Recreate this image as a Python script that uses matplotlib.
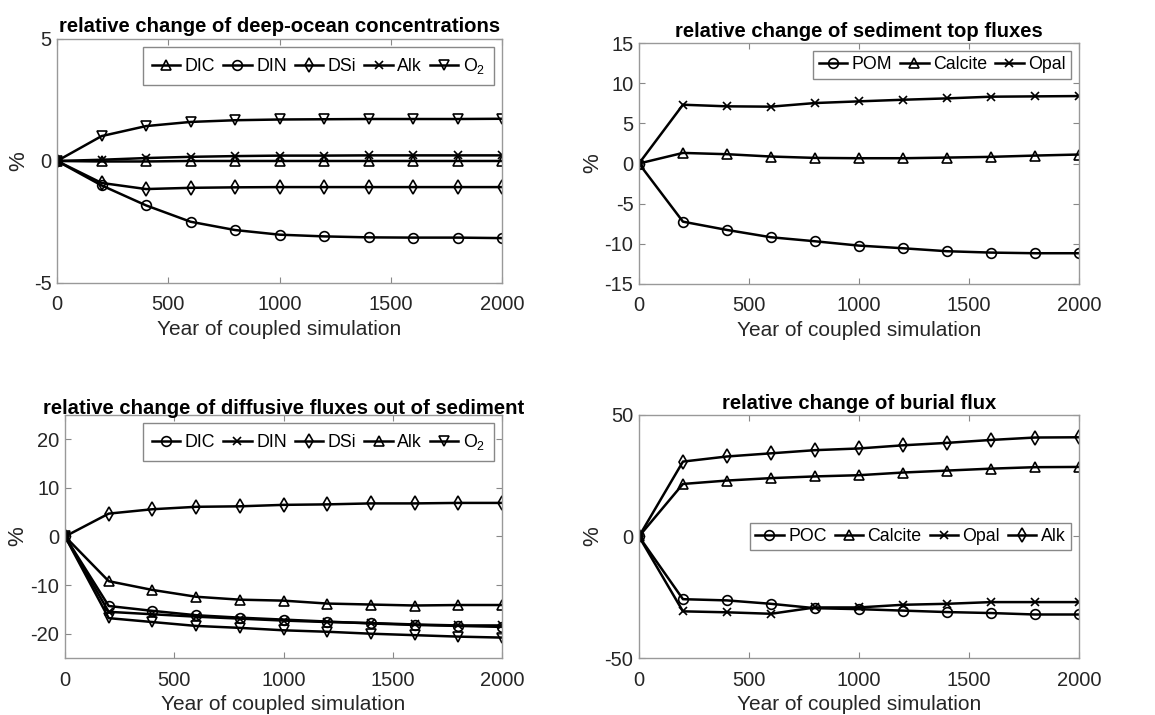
import matplotlib
matplotlib.use('Agg')
import matplotlib.pyplot as plt
import numpy as np

plt.rcParams['font.family'] = ['Liberation Sans', 'DejaVu Sans']
plt.rcParams['mathtext.default'] = 'regular'

# 年份
years = [0, 200, 400, 600, 800, 1000, 1200, 1400, 1600, 1800, 2000]

# deep-ocean concentrations
deep_dic = [0, -0.02, -0.02, 0, 0, 0, 0, 0, 0, 0, 0]
deep_din = [0, -1.0, -1.82, -2.49, -2.83, -3.02, -3.09, -3.13, -3.14, -3.14, -3.16]
deep_dsi = [0, -0.9, -1.15, -1.1, -1.08, -1.07, -1.07, -1.07, -1.07, -1.07, -1.07]
deep_alk = [0, 0.05, 0.12, 0.17, 0.2, 0.22, 0.22, 0.23, 0.23, 0.23, 0.23]
deep_o2 = [0, 1.02, 1.43, 1.6, 1.67, 1.7, 1.71, 1.72, 1.72, 1.72, 1.73]

# sediment top fluxes
top_pom = [0, -7.24, -8.27, -9.18, -9.68, -10.22, -10.55, -10.92, -11.09, -11.17, -11.17]
top_calcite = [0, 1.32, 1.16, 0.87, 0.7, 0.66, 0.66, 0.74, 0.83, 0.99, 1.12]
top_opal = [0, 7.32, 7.12, 7.08, 7.53, 7.74, 7.94, 8.11, 8.32, 8.36, 8.4]

# diffusive fluxes out of sediment
dif_dic = [0, -14.3, -15.3, -16.2, -16.7, -17.1, -17.5, -17.9, -18.2, -18.4, -18.6]
dif_din = [0, -15.5, -16.0, -16.5, -16.9, -17.3, -17.6, -17.8, -18.1, -18.3, -18.3]
dif_dsi = [0, 4.7, 5.6, 6.1, 6.2, 6.5, 6.6, 6.8, 6.8, 6.9, 6.9]
dif_alk = [0, -9.2, -11.0, -12.4, -13.0, -13.2, -13.8, -14.0, -14.2, -14.1, -14.1]
dif_o2 = [0, -16.8, -17.6, -18.4, -18.8, -19.3, -19.6, -20.0, -20.3, -20.6, -20.8]

# burial flux
bur_poc = [0, -25.8, -26.3, -27.7, -29.5, -29.9, -30.5, -31.1, -31.5, -32.1, -32.1]
bur_calcite = [0, 21.6, 23.0, 24.0, 24.7, 25.2, 26.3, 27.1, 27.9, 28.5, 28.6]
bur_opal = [0, -30.8, -31.2, -31.8, -29.2, -29.2, -28.1, -27.7, -27.0, -27.0, -27.0]
bur_alk = [0, 30.8, 32.9, 34.2, 35.5, 36.2, 37.5, 38.5, 39.7, 40.7, 40.8]

fig = plt.figure(figsize=(11.55, 7.15), dpi=100)
ax1 = fig.add_axes([0.0494, 0.6042, 0.3853, 0.3413])
ax2 = fig.add_axes([0.5532, 0.6028, 0.381, 0.337])
ax3 = fig.add_axes([0.0563, 0.0797, 0.3784, 0.340])
ax4 = fig.add_axes([0.5532, 0.0797, 0.381, 0.340])


def draw(ax, series, title, ylim, yticks, loc, ylab_x, tpad, bpad):
    for vals, mk, lab in series:
        ax.plot(years, vals, color='k', lw=1.8, marker=mk,
                ms=5.5 if mk == 'x' else 7, mfc='none', mec='k', mew=1.2, label=lab)
    ax.set_xlim(0, 2000)
    ax.set_ylim(*ylim)
    ax.set_xticks([0, 500, 1000, 1500, 2000])
    ax.set_yticks(yticks)
    ax.set_yticklabels([str(t) for t in yticks])
    ax.tick_params(direction='in', top=True, right=True, length=4,
                   color='#888888', labelsize=14.5, labelcolor='#262626')
    ax.tick_params(axis='x', pad=9)
    ax.tick_params(axis='y', pad=4)
    for s in ax.spines.values():
        s.set_color('#999999')
        s.set_linewidth(1.0)
    ax.set_xlabel('Year of coupled simulation', fontsize=15, color='#262626', labelpad=4)
    ax.set_ylabel('%', fontsize=16, color='#262626')
    ax.yaxis.set_label_coords(ylab_x, 0.5)
    ax.set_title(title, fontsize=14.6, fontweight='bold', pad=tpad)
    leg = ax.legend(loc=loc, ncol=len(series), fontsize=12.8, handlelength=1.6,
                    handletextpad=0.25, columnspacing=0.45, borderpad=bpad,
                    fancybox=False, framealpha=1, borderaxespad=0.45)
    leg.get_frame().set_edgecolor('#888888')
    leg.get_frame().set_linewidth(1.0)


draw(ax1, [(deep_dic, '^', 'DIC'), (deep_din, 'o', 'DIN'), (deep_dsi, 'd', 'DSi'),
           (deep_alk, 'x', 'Alk'), (deep_o2, 'v', 'O$_2$')],
     'relative change of deep-ocean concentrations', (-5, 5), [-5, 0, 5], 'upper right',
     -0.062, 5, 0.5)
draw(ax2, [(top_pom, 'o', 'POM'), (top_calcite, '^', 'Calcite'), (top_opal, 'x', 'Opal')],
     'relative change of sediment top fluxes', (-15, 15), [-15, -10, -5, 0, 5, 10, 15], 'upper right',
     -0.08, 4, 0.3)
draw(ax3, [(dif_dic, 'o', 'DIC'), (dif_din, 'x', 'DIN'), (dif_dsi, 'd', 'DSi'),
           (dif_alk, '^', 'Alk'), (dif_o2, 'v', 'O$_2$')],
     'relative change of diffusive fluxes out of sediment', (-25, 25), [-20, -10, 0, 10, 20], 'upper right',
     -0.084, 1, 0.5)
draw(ax4, [(bur_poc, 'o', 'POC'), (bur_calcite, '^', 'Calcite'), (bur_opal, 'x', 'Opal'),
           (bur_alk, 'd', 'Alk')],
     'relative change of burial flux', (-50, 50), [-50, 0, 50], 'center right',
     -0.082, 4, 0.3)

fig.savefig('out.png', dpi=100)
